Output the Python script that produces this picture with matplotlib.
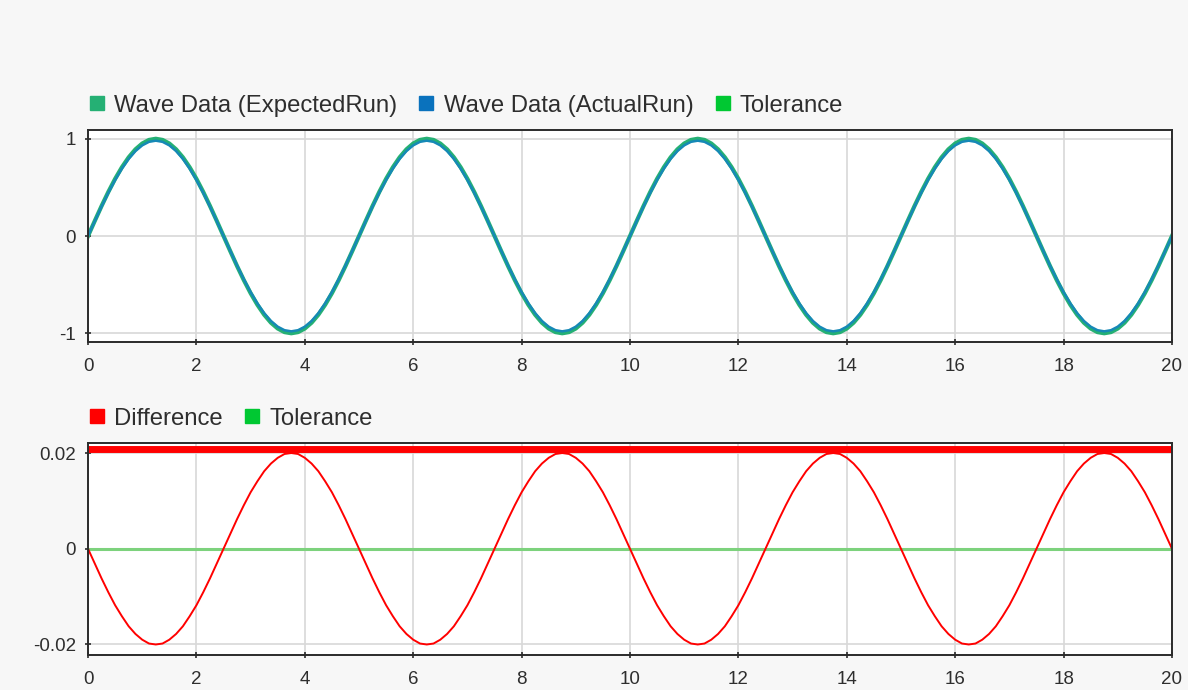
import numpy as np
import matplotlib
matplotlib.use("Agg")
import matplotlib.pyplot as plt
from matplotlib.lines import Line2D

plt.rcParams["font.family"] = ["Liberation Sans", "DejaVu Sans"]
plt.rcParams["axes.unicode_minus"] = False

# sample times (s), every 0.125 s
time = np.arange(161) * 0.125

# wave (one line per 5 s cycle)
expected_run = [
    0.000, 0.156, 0.309, 0.454, 0.588, 0.707, 0.809, 0.891, 0.951, 0.988, 1.000, 0.988, 0.951, 0.891, 0.809, 0.707, 0.588, 0.454, 0.309, 0.156,
    0.000, -0.156, -0.309, -0.454, -0.588, -0.707, -0.809, -0.891, -0.951, -0.988, -1.000, -0.988, -0.951, -0.891, -0.809, -0.707, -0.588, -0.454, -0.309, -0.156,
    0.000, 0.156, 0.309, 0.454, 0.588, 0.707, 0.809, 0.891, 0.951, 0.988, 1.000, 0.988, 0.951, 0.891, 0.809, 0.707, 0.588, 0.454, 0.309, 0.156,
    0.000, -0.156, -0.309, -0.454, -0.588, -0.707, -0.809, -0.891, -0.951, -0.988, -1.000, -0.988, -0.951, -0.891, -0.809, -0.707, -0.588, -0.454, -0.309, -0.156,
    0.000, 0.156, 0.309, 0.454, 0.588, 0.707, 0.809, 0.891, 0.951, 0.988, 1.000, 0.988, 0.951, 0.891, 0.809, 0.707, 0.588, 0.454, 0.309, 0.156,
    0.000, -0.156, -0.309, -0.454, -0.588, -0.707, -0.809, -0.891, -0.951, -0.988, -1.000, -0.988, -0.951, -0.891, -0.809, -0.707, -0.588, -0.454, -0.309, -0.156,
    0.000, 0.156, 0.309, 0.454, 0.588, 0.707, 0.809, 0.891, 0.951, 0.988, 1.000, 0.988, 0.951, 0.891, 0.809, 0.707, 0.588, 0.454, 0.309, 0.156,
    0.000, -0.156, -0.309, -0.454, -0.588, -0.707, -0.809, -0.891, -0.951, -0.988, -1.000, -0.988, -0.951, -0.891, -0.809, -0.707, -0.588, -0.454, -0.309, -0.156,
    0.000,
]

difference = [
    0.0000, -0.0031, -0.0062, -0.0091, -0.0118, -0.0141, -0.0162, -0.0178, -0.0190, -0.0198, -0.0200, -0.0198, -0.0190, -0.0178, -0.0162, -0.0141, -0.0118, -0.0091, -0.0062, -0.0031,
    0.0000, 0.0031, 0.0062, 0.0091, 0.0118, 0.0141, 0.0162, 0.0178, 0.0190, 0.0198, 0.0200, 0.0198, 0.0190, 0.0178, 0.0162, 0.0141, 0.0118, 0.0091, 0.0062, 0.0031,
    0.0000, -0.0031, -0.0062, -0.0091, -0.0118, -0.0141, -0.0162, -0.0178, -0.0190, -0.0198, -0.0200, -0.0198, -0.0190, -0.0178, -0.0162, -0.0141, -0.0118, -0.0091, -0.0062, -0.0031,
    0.0000, 0.0031, 0.0062, 0.0091, 0.0118, 0.0141, 0.0162, 0.0178, 0.0190, 0.0198, 0.0200, 0.0198, 0.0190, 0.0178, 0.0162, 0.0141, 0.0118, 0.0091, 0.0062, 0.0031,
    0.0000, -0.0031, -0.0062, -0.0091, -0.0118, -0.0141, -0.0162, -0.0178, -0.0190, -0.0198, -0.0200, -0.0198, -0.0190, -0.0178, -0.0162, -0.0141, -0.0118, -0.0091, -0.0062, -0.0031,
    0.0000, 0.0031, 0.0062, 0.0091, 0.0118, 0.0141, 0.0162, 0.0178, 0.0190, 0.0198, 0.0200, 0.0198, 0.0190, 0.0178, 0.0162, 0.0141, 0.0118, 0.0091, 0.0062, 0.0031,
    0.0000, -0.0031, -0.0062, -0.0091, -0.0118, -0.0141, -0.0162, -0.0178, -0.0190, -0.0198, -0.0200, -0.0198, -0.0190, -0.0178, -0.0162, -0.0141, -0.0118, -0.0091, -0.0062, -0.0031,
    0.0000, 0.0031, 0.0062, 0.0091, 0.0118, 0.0141, 0.0162, 0.0178, 0.0190, 0.0198, 0.0200, 0.0198, 0.0190, 0.0178, 0.0162, 0.0141, 0.0118, 0.0091, 0.0062, 0.0031,
    0.0000,
]

tolerance = 0.0
diff_band = 0.0208  # thick red bar along the top of the difference plot

x_ticks = [0, 2, 4, 6, 8, 10, 12, 14, 16, 18, 20]
top_yticks = [-1, 0, 1]
bot_yticks = [-0.02, 0, 0.02]
bot_ylabels = ["-0.02", "0", "0.02"]

expected = np.array(expected_run)
diff = np.array(difference)
actual = expected + diff

c_expected = "#25b074"
c_actual = "#0a72bd"
c_actual_line = "#1689b6"
c_tol = "#00c832"
c_tol_line = "#7dd27d"
c_diff = "#ff0000"
c_text = "#2e2e2e"
c_grid = "#d8d8d8"
bg = "#f7f7f7"

fig = plt.figure(figsize=(11.88, 6.9), dpi=100, facecolor=bg)
ax1 = fig.add_axes([0.0741, 0.5043, 0.9124, 0.3073])
ax2 = fig.add_axes([0.0741, 0.0507, 0.9124, 0.3073])


def style(ax):
    ax.set_facecolor("white")
    ax.set_xlim(0, 20)
    ax.set_xticks(x_ticks)
    ax.grid(True, color=c_grid, linewidth=1.2)
    ax.set_axisbelow(True)
    for s in ax.spines.values():
        s.set_color("#2b2b2b")
        s.set_linewidth(1.4)
    ax.tick_params(direction="inout", length=5, width=1.2, color="#2b2b2b",
                   labelsize=13.5, labelcolor=c_text, pad=6)
    ax.tick_params(axis="x", pad=9)


def legend(ax, items):
    handles = [Line2D([], [], linestyle="none", marker="s", markersize=10,
                      markerfacecolor=c, markeredgecolor=c) for _, c in items]
    ax.legend(handles, [t for t, _ in items], loc="center left",
              bbox_to_anchor=(-0.001, 1.115), ncol=len(items), frameon=False,
              fontsize=17.2, handlelength=0.8, handletextpad=0.33,
              columnspacing=0.82, borderpad=0, borderaxespad=0,
              labelcolor=c_text)


# top: wave data
style(ax1)
ax1.plot(time, expected, color=c_expected, linewidth=3.0)
ax1.plot(time, actual, color=c_actual_line, linewidth=1.8)
ax1.set_ylim(-1.09, 1.09)
ax1.set_yticks(top_yticks)
legend(ax1, [("Wave Data (ExpectedRun)", c_expected),
             ("Wave Data (ActualRun)", c_actual),
             ("Tolerance", c_tol)])

# bottom: difference vs tolerance
style(ax2)
ax2.plot(time, np.full_like(time, tolerance), color=c_tol_line, linewidth=2.2)
ax2.plot(time, diff, color=c_diff, linewidth=1.4)
ax2.plot([time[0], time[-1]], [diff_band, diff_band], color=c_diff,
         linewidth=5, solid_capstyle="butt", clip_on=False)
ax2.set_ylim(-0.0222, 0.0221)
ax2.set_yticks(bot_yticks)
ax2.set_yticklabels(bot_ylabels)
legend(ax2, [("Difference", c_diff), ("Tolerance", c_tol)])

fig.savefig("out.png", dpi=100, facecolor=bg)
